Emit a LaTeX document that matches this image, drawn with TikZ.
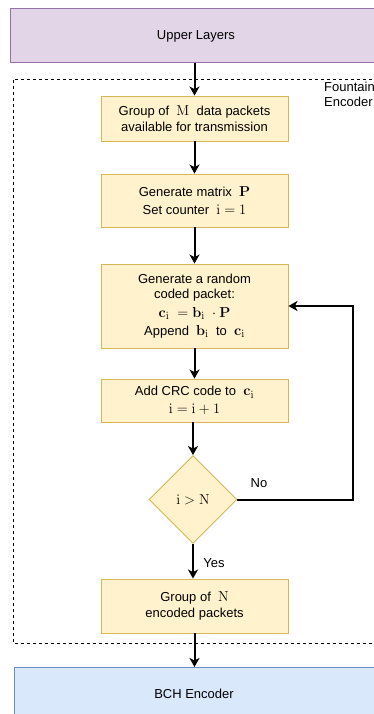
\documentclass[tikz,border=0pt]{standalone}
\usepackage[no-math]{fontspec}
\setmainfont{Liberation Sans}
\usetikzlibrary{shapes.geometric,arrows.meta}
\definecolor{purfill}{HTML}{E1D5E7}
\definecolor{purdraw}{HTML}{9673A6}
\definecolor{yelfill}{HTML}{FFF2CC}
\definecolor{yeldraw}{HTML}{D6B656}
\definecolor{blufill}{HTML}{DAE8FC}
\definecolor{bludraw}{HTML}{6C8EBF}
\newcommand\mx[1]{{\fontsize{15}{16}\selectfont$#1$}}
\tikzset{
  every node/.style={font=\fontsize{13}{15.5}\selectfont},
  stepbox/.style={draw=yeldraw, fill=yelfill, line width=0.9pt, rectangle, minimum width=187pt, align=center, inner sep=2pt},
  decbox/.style={draw=yeldraw, fill=yelfill, line width=0.9pt, diamond, aspect=1, minimum width=88pt, minimum height=88pt, inner sep=0pt},
  flow/.style={line width=2pt, -{Stealth[length=9pt,width=10pt,inset=2.5pt]}},
  lbl/.style={font=\fontsize{13}{15}\selectfont}
}
\begin{document}
\begin{tikzpicture}[x=1pt,y=-1pt]
\clip (0,0) rectangle (374,714);
\fill[white] (0,0) rectangle (374,714);
% Upper layers
\node[draw=purdraw, fill=purfill, line width=0.9pt, minimum width=374pt, minimum height=54pt, anchor=north west, inner sep=0pt] (up) at (10,8) {};
\node (uptext) at (196,36) {Upper Layers};
% dashed encoder frame
\draw[dashed, dash pattern=on 3pt off 3pt, line width=0.8pt] (390,79) -- (13.5,79) -- (13.5,643.5) -- (390,643.5);
\node[lbl, align=left, anchor=north west, inner sep=0pt] (fount) at (324,82) {Fountain\\Encoder};
% BCH
\node[draw=bludraw, fill=blufill, line width=0.9pt, minimum width=380pt, minimum height=54pt, anchor=north west, inner sep=0pt] (bch) at (13.5,667) {};
\node (bchtext) at (194,694) {BCH Encoder};
% steps
\node[stepbox, minimum height=45pt] (b1) at (194.5,118.5) {Group of \ \mx{\mathrm{M}} \ data packets\\available for transmission};
\node[stepbox, minimum height=53pt] (b2) at (194.5,200.5) {Generate matrix \ \mx{\mathbf{P}}\\[2pt]Set counter \ \mx{\mathrm{i}=1}};
\node[stepbox, minimum height=84pt] (b3) at (194.5,306) {Generate a random\\coded packet:\\[3pt]\mx{\mathbf{c}_{\mathrm{i}} \;=\mathbf{b}_{\mathrm{i}}\; \cdot \mathbf{P}}\\[3pt]Append \ \mx{\mathbf{b}_{\mathrm{i}}} \ to \ \mx{\mathbf{c}_{\mathrm{i}}}};
\node[stepbox, minimum height=43pt] (b4) at (194.5,400.5) {Add CRC code to \ \mx{\mathbf{c}_{\mathrm{i}}}\\[2pt]\mx{\mathrm{i}=\mathrm{i}+1}};
\node[decbox] (d) at (193,499.5) {\mx{\mathrm{i}>\mathrm{N}}};
\node[stepbox, minimum height=54pt] (b5) at (194.5,606) {Group of \ \mx{\mathrm{N}}\\encoded packets};
% connectors
\draw[flow] (up.south -| b1.north) -- (b1.north);
\draw[flow] (b1) -- (b2);
\draw[flow] (b2) -- (b3);
\draw[flow] (b3) -- (b4);
\draw[flow] (b4.south -| d.north) -- (d.north);
\draw[flow] (d.south) -- node[right, lbl, xshift=6pt, yshift=-2pt] {Yes} (d.south |- b5.north);
\coordinate (loopa) at (353,499.5);
\coordinate (loopb) at (353,306);
\draw[flow] (d.east) -- (loopa) -- (loopb) -- (b3.east);
\node[lbl] (no) at (259,483) {No};
\draw[flow] (b5.south) -- (b5.south |- bch.north);
\end{tikzpicture}
\end{document}
